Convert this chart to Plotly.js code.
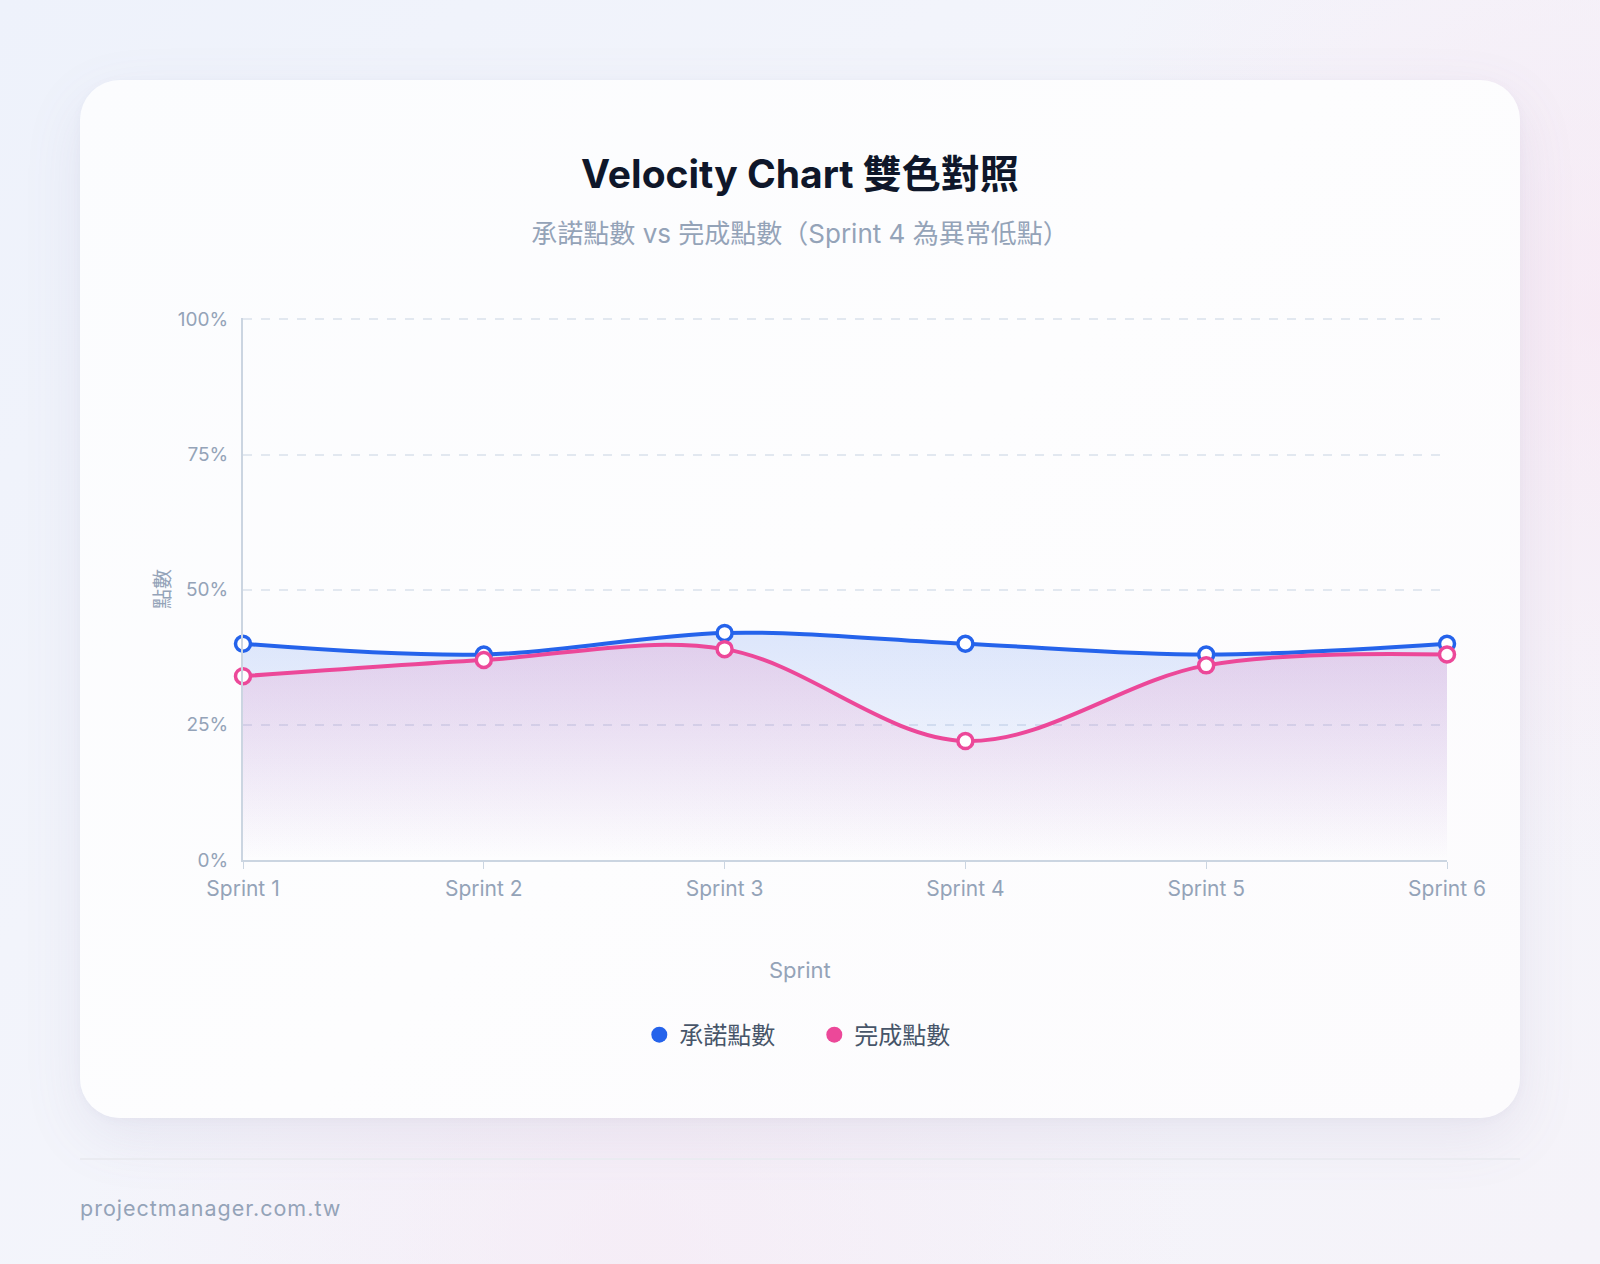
<!DOCTYPE html>
<html lang="zh-Hant">
<head>
<meta charset="utf-8">
<script src="https://cdn.plot.ly/plotly-3.0.1.min.js"></script>
<style>
  html, body {
    margin: 0;
    width: 1600px;
    height: 1264px;
    overflow: hidden;
    font-family: Inter, "Noto Sans CJK TC", sans-serif;
  }
  body {
    position: relative;
    background:
      radial-gradient(circle at 100% 25%, rgba(248, 226, 240, 0.55), rgba(248, 226, 240, 0) 30%),
      radial-gradient(circle at 40% 100%, rgba(246, 232, 244, 0.6), rgba(246, 232, 244, 0) 35%),
      linear-gradient(135deg, #eef2fb 0%, #f4f5fb 50%, #f5f3f9 100%);
  }
  .card {
    position: absolute;
    left: 80px;
    top: 80px;
    width: 1440px;
    height: 1038px;
    border-radius: 40px;
    background: linear-gradient(135deg, #fbfcfe 0%, #fdfdfe 50%, #fcfbfd 100%);
    box-shadow: 0 20px 60px rgba(120, 110, 160, 0.10), 0 2px 8px rgba(120, 110, 160, 0.05);
  }
  .title {
    position: absolute;
    left: 0;
    width: 1440px;
    top: 63px;
    text-align: center;
    font-size: 39px;
    font-weight: 700;
    color: #0f172a;
  }
  .subtitle {
    position: absolute;
    left: 0;
    width: 1440px;
    top: 133px;
    text-align: center;
    font-size: 26px;
    color: #94a3b8;
  }
  #chart {
    position: absolute;
    left: 80px;
    top: 270px;
    width: 1440px;
    height: 830px;
  }
  .rule {
    position: absolute;
    left: 80px;
    top: 1158px;
    width: 1440px;
    height: 2px;
    background: #eaebf1;
  }
  .footer {
    position: absolute;
    left: 80px;
    top: 1195px;
    font-size: 21.5px;
    letter-spacing: 1px;
    color: #94a3b8;
  }
</style>
</head>
<body>
<div class="card">
  <div class="title">Velocity Chart 雙色對照</div>
  <div class="subtitle">承諾點數 vs 完成點數（Sprint 4 為異常低點）</div>
</div>
<div id="chart"></div>
<div class="rule"></div>
<div class="footer">projectmanager.com.tw</div>

<script>
// sprint categories and the two series
const sprints = ['Sprint 1', 'Sprint 2', 'Sprint 3', 'Sprint 4', 'Sprint 5', 'Sprint 6'];
const committed = [40, 38, 42, 40, 38, 40];
const completed = [34, 37, 39, 22, 36, 38];
const yTicks = [0, 25, 50, 75, 100];
const yTickText = ['0%', '25%', '50%', '75%', '100%'];

const BLUE = '#2563eb';
const PINK = '#ec4899';
const FONT = 'Inter, "Noto Sans CJK TC", sans-serif';

const areaTrace = (name, ys, color, rgb) => ({
  x: sprints,
  y: ys,
  name: name,
  type: 'scatter',
  mode: 'lines+markers',
  fill: 'tozeroy',
  fillgradient: {
    type: 'vertical',
    start: 0,
    stop: Math.max(...ys),
    colorscale: [[0, 'rgba(' + rgb + ',0)'], [1, 'rgba(' + rgb + ',0.15)']]
  },
  line: { color: color, width: 4, shape: 'spline', smoothing: 1 },
  marker: { size: 15, color: '#ffffff', line: { color: color, width: 3.5 } },
  cliponaxis: false,
  showlegend: false,
  hoverinfo: 'skip'
});

// legend-only entries so the key shows plain filled dots
const legendTrace = (name, color) => ({
  x: [null],
  y: [null],
  name: name,
  type: 'scatter',
  mode: 'markers',
  marker: { size: 20, color: color },
  showlegend: true
});

const traces = [
  areaTrace('承諾點數', committed, BLUE, '37,99,235'),
  areaTrace('完成點數', completed, PINK, '236,72,153'),
  legendTrace('承諾點數', BLUE),
  legendTrace('完成點數', PINK)
];

const layout = {
  width: 1440,
  height: 830,
  margin: { t: 48, r: 73, b: 240, l: 163 },
  paper_bgcolor: 'rgba(0,0,0,0)',
  plot_bgcolor: 'rgba(0,0,0,0)',
  font: { family: FONT, color: '#94a3b8' },
  xaxis: {
    type: 'category',
    range: [0, sprints.length - 1],
    showgrid: false,
    showline: true,
    linecolor: '#cbd5e1',
    linewidth: 2,
    ticks: 'outside',
    ticklen: 7,
    tickwidth: 1,
    tickcolor: '#cbd5e1',
    ticklabelstandoff: 2,
    tickfont: { size: 21, color: '#94a3b8' },
    zeroline: false,
    fixedrange: true
  },
  yaxis: {
    range: [0, 100.25],
    tickvals: yTicks,
    ticktext: yTickText,
    showgrid: true,
    gridcolor: '#e2e8f0',
    gridwidth: 1.5,
    griddash: 'dash',
    showline: true,
    linecolor: '#cbd5e1',
    linewidth: 2,
    ticks: '',
    ticklabelstandoff: 9,
    tickfont: { size: 19, color: '#94a3b8' },
    zeroline: false,
    title: { text: '點數', font: { size: 20, color: '#94a3b8' }, standoff: 2 },
    fixedrange: true
  },
  annotations: [{
    text: 'Sprint',
    xref: 'paper',
    yref: 'paper',
    x: 0.4626,
    y: -0.203,
    xanchor: 'center',
    yanchor: 'middle',
    showarrow: false,
    font: { size: 22, color: '#94a3b8', family: FONT }
  }],
  showlegend: true,
  legend: {
    orientation: 'h',
    xref: 'paper',
    x: 0.4745,
    xanchor: 'center',
    y: -0.3230,
    yanchor: 'middle',
    entrywidth: 130,
    entrywidthmode: 'pixels',
    font: { size: 24, color: '#475569', family: FONT },
    itemclick: false,
    itemdoubleclick: false,
    bgcolor: 'rgba(0,0,0,0)'
  }
};

Plotly.newPlot('chart', traces, layout, { displayModeBar: false, responsive: false });
</script>
</body>
</html>
